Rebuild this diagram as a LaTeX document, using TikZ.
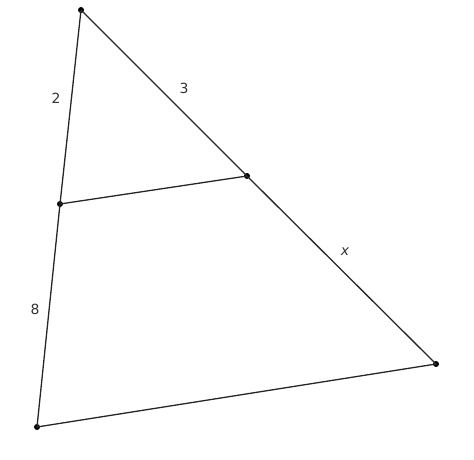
\documentclass[tikz,border=0pt]{standalone}
\usepackage{fontspec}
\setmainfont{DejaVu Sans}
\begin{document}
\begin{tikzpicture}[x=1pt,y=-1pt,
  pt/.style={circle,fill=black,inner sep=0pt,minimum size=6pt},
  seg/.style={draw=black!85,line width=1.3pt},
  lbl/.style={font=\fontsize{14}{16}\selectfont,text=black!80,inner sep=0pt}]
\useasboundingbox (0,0) rectangle (474,460);
\node[pt] (A) at (81,10) {};
\node[pt] (D) at (60,204) {};
\node[pt] (B) at (37,427) {};
\node[pt] (E) at (247,176) {};
\node[pt] (C) at (436,364) {};
\draw[seg] (A.center) -- (D.center) -- (B.center) -- (C.center) -- (E.center) -- (A.center);
\draw[seg] (D.center) -- (E.center);
\node[lbl] (l2) at (56,98) {2};
\node[lbl] (l3) at (184,88) {3};
\node[lbl] (lx) at (345,252) {\itshape x};
\node[lbl] (l8) at (35,309) {8};
\end{tikzpicture}
\end{document}
